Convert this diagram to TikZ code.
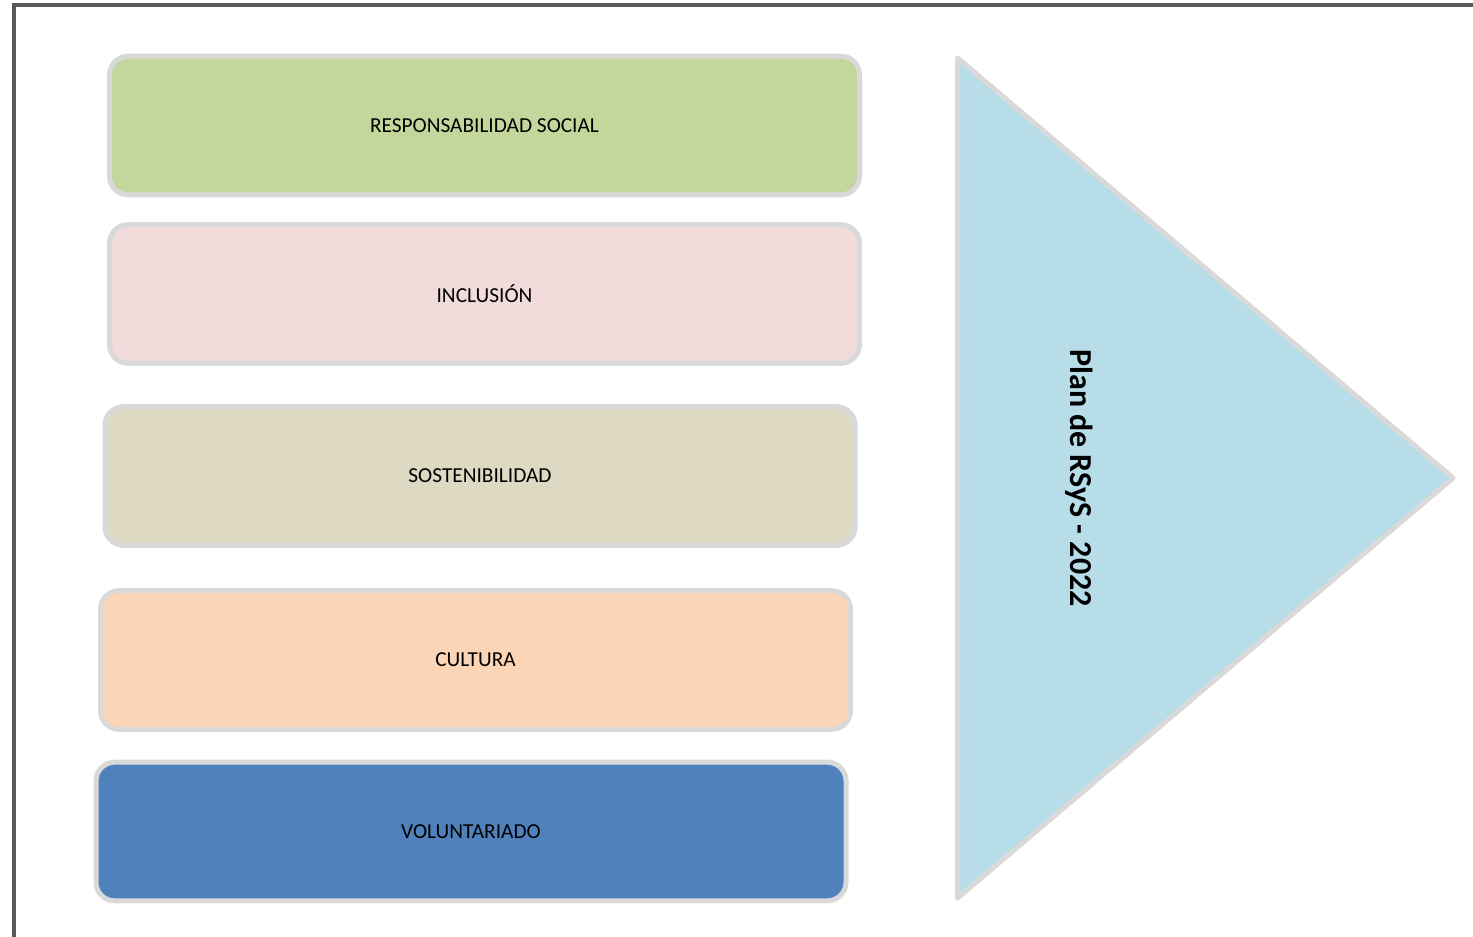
\documentclass[tikz,border=0pt]{standalone}
\usepackage{fontspec}
\setmainfont{Carlito}
\definecolor{frameGray}{HTML}{595959}
\definecolor{edgeGray}{HTML}{D9D9D9}
\definecolor{cGreen}{HTML}{C3D69B}
\definecolor{cPink}{HTML}{F2DCDB}
\definecolor{cBeige}{HTML}{DDD9C3}
\definecolor{cPeach}{HTML}{FBD5B5}
\definecolor{cBlue}{HTML}{4F81BD}
\definecolor{cSky}{HTML}{B7DDE8}
\begin{document}
\begin{tikzpicture}[x=0.75pt,y=-0.75pt,
  bar/.style={draw=edgeGray,line width=3.75pt,rounded corners=14pt,
    minimum width=562.5pt,minimum height=104pt,inner sep=0pt,
    font=\fontsize{16}{19}\selectfont},
  ttl/.style={font=\bfseries\fontsize{24}{28}\selectfont,rotate=-90,inner sep=0pt}]
\useasboundingbox (0,0) rectangle (1473,936);
\clip (0,0) rectangle (1473,936);
\draw[frameGray,line width=3.3pt] (14,945) -- (14,5) -- (1480,5);
\node[bar,fill=cGreen] (rs) at (484.5,125.5) {RESPONSABILIDAD SOCIAL};
\node[bar,fill=cPink] (inc) at (484.5,294) {INCLUSIÓN};
\node[bar,fill=cBeige] (sos) at (480,476) {SOSTENIBILIDAD};
\node[bar,fill=cPeach] (cul) at (475.5,660) {CULTURA};
\node[bar,fill=cBlue] (vol) at (471,831.5) {VOLUNTARIADO};
\draw[draw=edgeGray,fill=cSky,line width=3.75pt,line join=round]
  (957.5,58) -- (1453,478) -- (957.5,898) -- cycle;
\node[ttl] (plan) at (1079,478) {Plan de RSyS - 2022};
\end{tikzpicture}
\end{document}
